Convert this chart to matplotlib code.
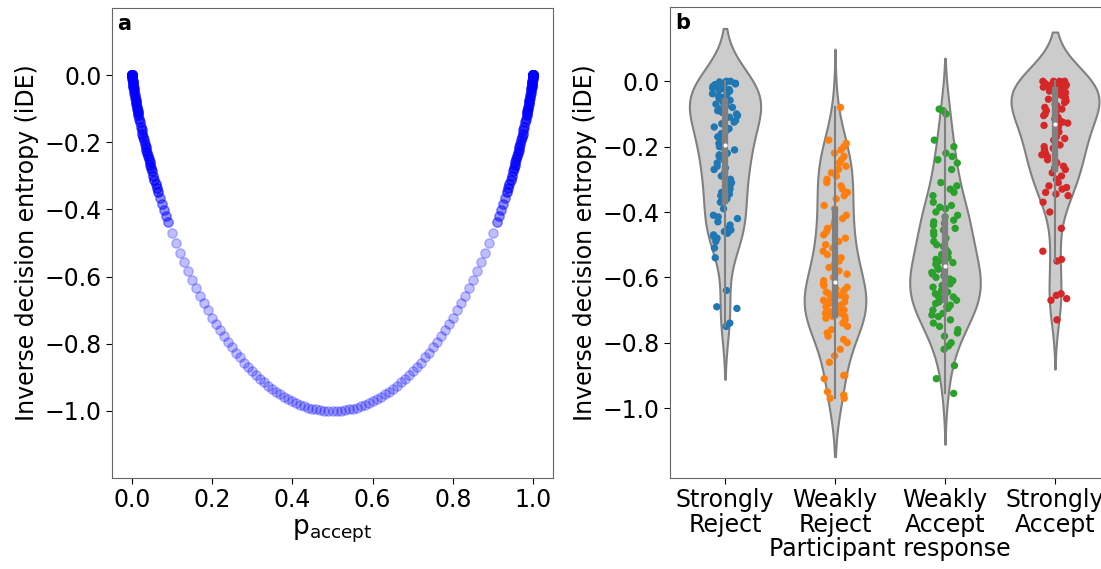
import numpy as np
import pandas as pd
import matplotlib
matplotlib.use("Agg")
import matplotlib.pyplot as plt
import seaborn as sns

# --------------------------------------------------
# DATA: panel a (model p_accept vs inverse decision entropy)
# n_* = how many trials sit on each value (heavy overlap near 0 and 1)
# --------------------------------------------------
p_lo = [0, 0, 0, 0, 0, 0.0005, 0.001, 0.0015, 0.002, 0.0025, 0.003, 0.0035,
        0.004, 0.005, 0.006, 0.007, 0.008, 0.009, 0.010, 0.011, 0.012, 0.013, 0.014, 0.015, 0.016,
        0.018, 0.020, 0.022, 0.024, 0.026, 0.028, 0.030, 0.032, 0.034, 0.036, 0.038, 0.040,
        0.042, 0.044, 0.046, 0.048, 0.050, 0.053, 0.056, 0.059, 0.062, 0.065,
        0.07, 0.075, 0.08, 0.085, 0.09,
        0.10, 0.11, 0.12, 0.13, 0.14, 0.15, 0.16, 0.17, 0.18, 0.19, 0.20, 0.21, 0.22, 0.23,
        0.24, 0.25, 0.26, 0.27, 0.28, 0.29, 0.30, 0.31, 0.32, 0.33, 0.34, 0.35, 0.36, 0.37,
        0.38, 0.39, 0.40, 0.41, 0.42, 0.43, 0.44, 0.45, 0.46, 0.47, 0.48, 0.49, 0.50]
ide_lo = [0, 0, 0, 0, 0, -0.006, -0.011, -0.016, -0.021, -0.025, -0.029, -0.034,
          -0.038, -0.045, -0.053, -0.060, -0.067, -0.074, -0.081, -0.087, -0.094, -0.100, -0.106, -0.112, -0.118,
          -0.130, -0.141, -0.153, -0.163, -0.174, -0.184, -0.194, -0.204, -0.214, -0.224, -0.233, -0.242,
          -0.251, -0.260, -0.269, -0.278, -0.286, -0.299, -0.311, -0.324, -0.335, -0.347,
          -0.366, -0.384, -0.402, -0.420, -0.437,
          -0.469, -0.500, -0.529, -0.557, -0.584, -0.610, -0.634, -0.658, -0.680, -0.701, -0.722, -0.742, -0.760, -0.778,
          -0.795, -0.811, -0.827, -0.841, -0.856, -0.869, -0.881, -0.893, -0.904, -0.915, -0.925, -0.934, -0.943, -0.951,
          -0.958, -0.965, -0.971, -0.977, -0.982, -0.986, -0.990, -0.993, -0.995, -0.997, -0.999, -1.000, -1.000]
n_lo = [6] * 5 + [3] * 42 + [2] * 5 + [1] * 41

p_hi = [0.51, 0.52, 0.53, 0.54, 0.55, 0.56, 0.57, 0.58, 0.59, 0.60, 0.61, 0.62, 0.63, 0.64,
        0.65, 0.66, 0.67, 0.68, 0.69, 0.70, 0.71, 0.72, 0.73, 0.74, 0.75, 0.76, 0.77, 0.78,
        0.79, 0.80, 0.81, 0.82, 0.83, 0.84, 0.85, 0.86, 0.87, 0.88, 0.89, 0.90,
        0.91, 0.915, 0.92, 0.925, 0.93, 0.935, 0.938, 0.941, 0.944, 0.947,
        0.950, 0.952, 0.954, 0.956, 0.958, 0.960, 0.962, 0.964, 0.966, 0.968, 0.970, 0.972,
        0.974, 0.976, 0.978, 0.980, 0.982,
        0.984, 0.985, 0.986, 0.987, 0.988, 0.989, 0.990, 0.991, 0.992, 0.993, 0.994, 0.995, 0.996,
        0.9965, 0.997, 0.9975, 0.998, 0.9985, 0.999, 0.9995, 1, 1, 1, 1, 1]
ide_hi = [-1.000, -0.999, -0.997, -0.995, -0.993, -0.990, -0.986, -0.982, -0.977, -0.971, -0.965, -0.958, -0.951, -0.943,
          -0.934, -0.925, -0.915, -0.904, -0.893, -0.881, -0.869, -0.856, -0.841, -0.827, -0.811, -0.795, -0.778, -0.760,
          -0.742, -0.722, -0.701, -0.680, -0.658, -0.634, -0.610, -0.584, -0.557, -0.529, -0.500, -0.469,
          -0.437, -0.420, -0.402, -0.384, -0.366, -0.347, -0.335, -0.324, -0.311, -0.299,
          -0.286, -0.278, -0.269, -0.260, -0.251, -0.242, -0.233, -0.224, -0.214, -0.204, -0.194, -0.184,
          -0.174, -0.163, -0.153, -0.141, -0.130,
          -0.118, -0.112, -0.106, -0.100, -0.094, -0.087, -0.081, -0.074, -0.067, -0.060, -0.053, -0.045, -0.038,
          -0.034, -0.029, -0.025, -0.021, -0.016, -0.011, -0.006, 0, 0, 0, 0, 0]
n_hi = [1] * 40 + [2] * 5 + [3] * 42 + [6] * 5

# --------------------------------------------------
# DATA: panel b (iDE per participant response)
# --------------------------------------------------
responses = ["Strongly\nReject", "Weakly\nReject", "Weakly\nAccept", "Strongly\nAccept"]
point_colors = ["#1f77b4", "#ff7f0e", "#2ca02c", "#d62728"]

ide_strong_reject = [0.0, 0.0, -0.002, -0.004, -0.006, -0.008, -0.01, -0.012, -0.015, -0.018, -0.02,
                     -0.022, -0.025, -0.028, -0.03, -0.034, -0.038, -0.042, -0.046, -0.05, -0.054, -0.058,
                     -0.065, -0.07, -0.075, -0.08, -0.085, -0.09, -0.095, -0.10, -0.105, -0.11, -0.12,
                     -0.125, -0.13, -0.14, -0.145, -0.15, -0.16, -0.17, -0.175, -0.185, -0.19,
                     -0.2, -0.205, -0.21, -0.22, -0.225, -0.23, -0.24, -0.25, -0.26, -0.265, -0.27,
                     -0.28, -0.29, -0.30, -0.31, -0.32, -0.33, -0.34, -0.345, -0.35, -0.36,
                     -0.37, -0.39, -0.41, -0.415, -0.42, -0.43, -0.44, -0.45, -0.455, -0.46, -0.465,
                     -0.47, -0.475, -0.48, -0.49, -0.51, -0.54, -0.64, -0.69, -0.695, -0.74, -0.75]
ide_weak_reject = [-0.08, -0.18, -0.19, -0.2, -0.21, -0.22, -0.23, -0.24, -0.25, -0.26, -0.27,
                   -0.28, -0.29, -0.30, -0.31, -0.32, -0.33, -0.34, -0.35, -0.36, -0.38, -0.39,
                   -0.41, -0.42, -0.43, -0.44, -0.45, -0.46, -0.47, -0.48, -0.49, -0.50, -0.51,
                   -0.52, -0.53, -0.54, -0.55, -0.56, -0.57, -0.58, -0.59, -0.60, -0.61,
                   -0.62, -0.625, -0.63, -0.635, -0.64, -0.645, -0.65, -0.655, -0.66, -0.665, -0.67,
                   -0.675, -0.68, -0.685, -0.69, -0.695, -0.70, -0.70, -0.705, -0.71, -0.71,
                   -0.715, -0.72, -0.72, -0.725, -0.73, -0.74, -0.75, -0.76, -0.77, -0.78, -0.79,
                   -0.80, -0.82, -0.84, -0.86, -0.90, -0.90, -0.91, -0.95, -0.96, -0.97, -0.97]
ide_weak_accept = [-0.085, -0.09, -0.10, -0.18, -0.20, -0.22, -0.23, -0.24, -0.25, -0.27, -0.31,
                   -0.32, -0.33, -0.34, -0.35, -0.37, -0.38, -0.385, -0.39, -0.40, -0.41, -0.415,
                   -0.425, -0.43, -0.435, -0.44, -0.45, -0.455, -0.46, -0.47, -0.48, -0.49, -0.50,
                   -0.505, -0.51, -0.52, -0.525, -0.53, -0.54, -0.545, -0.55, -0.555, -0.56,
                   -0.57, -0.575, -0.58, -0.585, -0.59, -0.595, -0.60, -0.605, -0.61, -0.615, -0.62,
                   -0.625, -0.63, -0.635, -0.64, -0.645, -0.65, -0.655, -0.66, -0.66, -0.665,
                   -0.67, -0.675, -0.68, -0.685, -0.69, -0.695, -0.70, -0.71, -0.715, -0.72, -0.73,
                   -0.74, -0.75, -0.76, -0.77, -0.78, -0.80, -0.81, -0.82, -0.87, -0.91, -0.955]
ide_strong_accept = [0.0, 0.0, 0.0, 0.0, -0.002, -0.004, -0.005, -0.006, -0.008, -0.01, -0.011,
                     -0.012, -0.014, -0.015, -0.016, -0.018, -0.02, -0.022, -0.023, -0.025, -0.026, -0.027,
                     -0.03, -0.035, -0.04, -0.045, -0.05, -0.055, -0.06, -0.065, -0.07, -0.075, -0.08,
                     -0.085, -0.09, -0.095, -0.10, -0.105, -0.11, -0.115, -0.12, -0.125, -0.128,
                     -0.135, -0.14, -0.15, -0.155, -0.16, -0.17, -0.175, -0.18, -0.19, -0.195, -0.20,
                     -0.205, -0.21, -0.22, -0.225, -0.23, -0.24, -0.245, -0.25, -0.26, -0.265,
                     -0.27, -0.28, -0.29, -0.30, -0.31, -0.32, -0.325, -0.33, -0.34, -0.345, -0.35,
                     -0.37, -0.40, -0.45, -0.52, -0.545, -0.55, -0.65, -0.655, -0.665, -0.67, -0.73]

FS = 17

# --------------------------------------------------
# FIGURE
# --------------------------------------------------
np.random.seed(3)
fig = plt.figure(figsize=(11.01, 5.69), dpi=100)
ax_a = fig.add_axes([112 / 1101, 1 - 478 / 569, 441 / 1101, 470 / 569])
ax_b = fig.add_axes([670 / 1101, 1 - 478 / 569, 440 / 1101, 471 / 569])

# panel a
p_accept = np.repeat(p_lo + p_hi, n_lo + n_hi)
ide_model = np.repeat(ide_lo + ide_hi, n_lo + n_hi)
ax_a.scatter(p_accept, ide_model, s=45, c="b", alpha=0.25, edgecolors="b", linewidths=1)
ax_a.set_xlim(-0.05, 1.05)
ax_a.set_ylim(-1.2, 0.2)
ax_a.set_xticks([0.0, 0.2, 0.4, 0.6, 0.8, 1.0])
ax_a.set_yticks([-1.0, -0.8, -0.6, -0.4, -0.2, 0.0])
ax_a.set_xlabel(r"$\mathrm{p_{accept}}$", fontsize=FS + 2)
ax_a.set_ylabel("Inverse decision entropy (iDE)", fontsize=FS)

# panel b
groups = [ide_strong_reject, ide_weak_reject, ide_weak_accept, ide_strong_accept]
df = pd.DataFrame({
    "response": np.repeat(responses, [len(g) for g in groups]),
    "ide": np.concatenate(groups),
})
sns.violinplot(data=df, x="response", y="ide", order=responses, color="0.8",
               linecolor="0.5", linewidth=1.5, inner="box",
               inner_kws=dict(box_width=4.5, whis_width=1.5, marker="o"), ax=ax_b)
sns.stripplot(data=df, x="response", y="ide", order=responses, hue="response",
              hue_order=responses, palette=point_colors, size=5.3, jitter=0.12,
              legend=False, ax=ax_b)
# inner box on top of the points, median as a small white dot
for ln in ax_b.lines:
    ln.set_zorder(4)
    if ln.get_marker() == "o":
        ln.set_markersize(3)
        ln.set_markeredgewidth(0)
        ln.set_markerfacecolor("white")
ax_b.set_xlabel("Participant response", fontsize=FS, labelpad=0)
ax_b.set_ylabel("Inverse decision entropy (iDE)", fontsize=FS)
ax_b.set_yticks([-1.0, -0.8, -0.6, -0.4, -0.2, 0.0])

for ax, letter in [(ax_a, "a"), (ax_b, "b")]:
    ax.tick_params(labelsize=FS, length=4, direction="out", top=False, right=False)
    for s in ax.spines.values():
        s.set_color("0.4")
    ax.text(0.012, 0.988, letter, transform=ax.transAxes, fontsize=15,
            fontweight="bold", va="top", ha="left")
plt.setp(ax_b.get_xticklabels(), linespacing=1.05)

fig.savefig("out.png", dpi=100)
